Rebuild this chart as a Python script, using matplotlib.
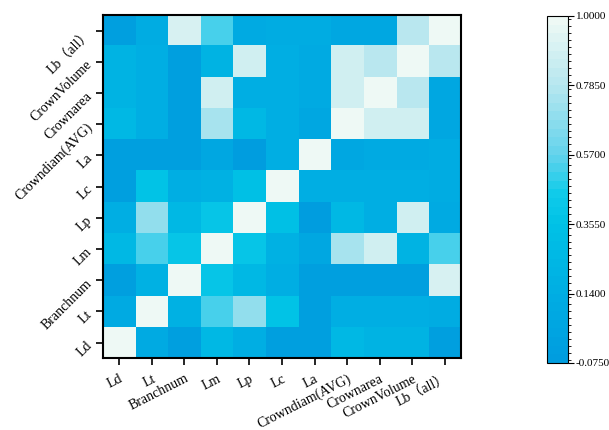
import matplotlib
matplotlib.use('Agg')
import matplotlib.pyplot as plt
import numpy as np
from matplotlib.colors import LinearSegmentedColormap, BoundaryNorm

plt.rcParams['font.family'] = ['Liberation Serif', 'Noto Sans CJK SC']

etiquetas = ['Ld', 'Lt', 'Branchnum', 'Lm', 'Lp', 'Lc', 'La',
             'Crowndiam(AVG)', 'Crownarea', 'CrownVolume', 'Lb（all）']

# triangulo inferior de la matriz de correlacion (fila i, columnas 0..i-1)
tri = [
    [],
    [0.09],
    [-0.04, 0.17],
    [0.26, 0.52, 0.40],
    [0.16, 0.70, 0.27, 0.40],
    [-0.03, 0.38, 0.14, 0.17, 0.33],
    [-0.04, -0.04, -0.04, 0.08, -0.05, 0.14],
    [0.27, 0.15, -0.03, 0.74, 0.27, 0.15, 0.08],
    [0.21, 0.15, -0.03, 0.89, 0.16, 0.15, 0.10, 0.88],
    [0.21, 0.15, -0.03, 0.20, 0.88, 0.15, 0.10, 0.88, 0.79],
    [-0.03, 0.12, 0.90, 0.53, 0.10, 0.13, 0.13, 0.06, 0.07, 0.79],
]

vmin, vmax = -0.075, 1.0
ticks_cb = [-0.075, 0.14, 0.355, 0.57, 0.785, 1.0]

n = len(etiquetas)
m = np.eye(n)
for i, fila in enumerate(tri):
    for j, v in enumerate(fila):
        m[i, j] = v
        m[j, i] = v

colores = [(0.0, '#009ddf'), (0.2, '#00aee3'), (0.4, '#00c2e6'),
           (0.488, '#10cbea'), (0.6, '#62d3ec'), (0.8, '#b4e6ef'),
           (1.0, '#eef9f5')]
cmap = LinearSegmentedColormap.from_list('azul', colores, N=40)
limites = np.linspace(vmin, vmax, 41)
norm = BoundaryNorm(limites, cmap.N)

fig = plt.figure(figsize=(6.09, 4.30), dpi=100)
ax = fig.add_axes([0.169, 0.167, 0.588, 0.798])
im = ax.imshow(m, cmap=cmap, norm=norm, origin='lower', aspect='auto')

ax.set_xticks(range(n))
ax.set_yticks(range(n))
ax.set_xticklabels(etiquetas, rotation=27, ha='right', rotation_mode='anchor', fontsize=10)
ax.set_yticklabels(etiquetas, rotation=45, ha='right', rotation_mode='anchor', fontsize=10)
ax.tick_params(direction='out', length=5, width=1.2, pad=5)
for s in ax.spines.values():
    s.set_linewidth(1.5)

cax = fig.add_axes([0.898, 0.156, 0.034, 0.807])
cb = fig.colorbar(im, cax=cax, ticks=ticks_cb)
cb.ax.set_yticklabels(['%.4f' % t for t in ticks_cb], fontsize=8)
cb.ax.minorticks_on()
cb.ax.yaxis.set_minor_locator(plt.MultipleLocator((vmax - vmin) / 50))
cb.ax.tick_params(which='major', length=4, width=0.8, pad=2)
cb.ax.tick_params(which='minor', length=2.5, width=0.6)
cb.outline.set_linewidth(0.8)

plt.savefig('out.png', dpi=100)
